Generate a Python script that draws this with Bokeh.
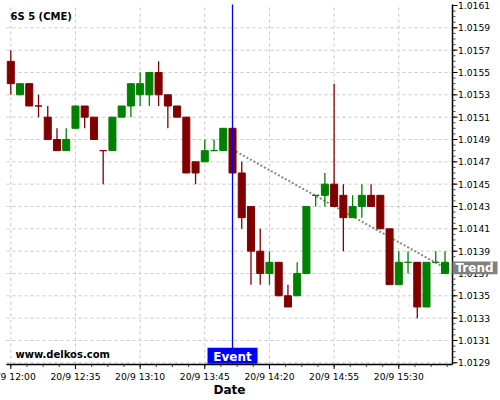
import numpy as np
from bokeh.plotting import figure
from bokeh.models import Range1d, ColumnDataSource
from bokeh.core.properties import value
from bokeh.embed import file_html
from bokeh.resources import INLINE

# ---------------- data ----------------
title_text = "6S 5 (CME)"
watermark_text = "www.delkos.com"
x_axis_title = "Date"
opens = [1.0156, 1.0153, 1.0154, 1.0152, 1.0151, 1.0149, 1.0148, 1.0150, 1.0152, 1.0151,
         1.0148, 1.0148, 1.0151, 1.0152, 1.0153, 1.0153, 1.0155, 1.0153, 1.0152, 1.0151,
         1.0147, 1.0147, 1.0148, 1.0148, 1.0150, 1.0146, 1.0143, 1.0139, 1.0137, 1.0138,
         1.0135, 1.0135, 1.0137, 1.0144, 1.0144, 1.0145, 1.0144, 1.0142, 1.0143, 1.0144,
         1.0144, 1.0141, 1.0136, 1.0138, 1.0138, 1.0134, 1.0138, 1.0137]
highs = [1.0157, 1.0154, 1.0154, 1.0153, 1.0152, 1.0150, 1.0150, 1.0152, 1.0152, 1.0151,
         1.0148, 1.0151, 1.0152, 1.0154, 1.0155, 1.0155, 1.0156, 1.0153, 1.0152, 1.0151,
         1.0147, 1.0149, 1.0149, 1.0150, 1.0150, 1.0147, 1.0143, 1.0141, 1.0139, 1.0138,
         1.0136, 1.0138, 1.0143, 1.0144, 1.0146, 1.0154, 1.0145, 1.0144, 1.0145, 1.0145,
         1.0144, 1.0141, 1.0139, 1.0139, 1.0138, 1.0138, 1.0139, 1.0139]
lows = [1.0153, 1.0153, 1.0152, 1.0151, 1.0149, 1.0148, 1.0148, 1.0150, 1.0150, 1.0149,
        1.0145, 1.0148, 1.0151, 1.0151, 1.0152, 1.0152, 1.0152, 1.0150, 1.0151, 1.0146,
        1.0145, 1.0147, 1.0148, 1.0148, 1.0146, 1.0141, 1.0136, 1.0136, 1.0136, 1.0135,
        1.0134, 1.0135, 1.0137, 1.0143, 1.0143, 1.0143, 1.0139, 1.0142, 1.0142, 1.0143,
        1.0141, 1.0136, 1.0136, 1.0137, 1.0133, 1.0134, 1.0138, 1.0137]
closes = [1.0154, 1.0154, 1.0152, 1.0152, 1.0149, 1.0148, 1.0149, 1.0152, 1.0151, 1.0149,
          1.0148, 1.0151, 1.0152, 1.0154, 1.0154, 1.0155, 1.0153, 1.0152, 1.0151, 1.0146,
          1.0146, 1.0148, 1.0148, 1.0150, 1.0146, 1.0142, 1.0139, 1.0137, 1.0138, 1.0135,
          1.0134, 1.0137, 1.0143, 1.0144, 1.0145, 1.0143, 1.0142, 1.0143, 1.0144, 1.0143,
          1.0141, 1.0136, 1.0138, 1.0138, 1.0134, 1.0138, 1.0138, 1.0138]
tick_positions = [0, 7, 14, 21, 28, 35, 42]          # candle index (5-minute bars from 12:00)
tick_labels = ["20/9 12:00", "20/9 12:35", "20/9 13:10", "20/9 13:45",
               "20/9 14:20", "20/9 14:55", "20/9 15:30"]
y_ticks = [1.0129, 1.0131, 1.0133, 1.0135, 1.0137, 1.0139, 1.0141, 1.0143, 1.0145,
           1.0147, 1.0149, 1.0151, 1.0153, 1.0155, 1.0157, 1.0159, 1.0161]
y_tick_labels = ["%.4f" % t for t in y_ticks]
event_index = 24
event_text = "Event"
trend_x = [24, 47]
trend_y = [1.01481, 1.01375]
trend_text = "Trend"

# ---------------- layout helpers (pixel layout of the 500x400 canvas) ----------------
W, H = 500, 400
X_PX, X0_PX = 9.238, 10.3            # px per candle, px of candle 0
Y_PX, Y_P0, Y0_PX = 111656.0, 1.0161, 5.0


def rx(px):
    return (px - X0_PX) / X_PX


def ry(py):
    return Y_P0 - (py - Y0_PX) / Y_PX


def dx(px):
    return px / X_PX


def dy(px):
    return px / Y_PX


FONT = value("DejaVu Sans")
UP, DOWN = "#008000", "#800000"
GRID = "#c8c8c8"

colors = []
for o, c in zip(opens, closes):
    if c > o:
        colors.append(UP)
    elif c < o:
        colors.append(DOWN)
    else:
        colors.append(colors[-1] if colors else UP)
xs = list(range(len(opens)))
src = ColumnDataSource(dict(x=xs, high=highs, low=lows,
                            top=[max(o, c) for o, c in zip(opens, closes)],
                            bottom=[min(o, c) for o, c in zip(opens, closes)],
                            color=colors))

p = figure(width=W, height=H, output_backend="svg", toolbar_location=None,
           x_range=Range1d(rx(0), rx(W)), y_range=Range1d(ry(H), ry(0)),
           x_axis_location=None, y_axis_location=None,
           min_border_left=0, min_border_top=0, min_border_right=0, min_border_bottom=0)
p.outline_line_color = None
p.background_fill_color = "white"
p.border_fill_color = "white"
p.grid.visible = False

D_LEFT, D_AXIS = rx(6), rx(452)
P_AXIS, P_TOP = ry(364), ry(4)

# grid
p.segment(x0=tick_positions, y0=P_AXIS, x1=tick_positions, y1=P_TOP,
          line_color=GRID, line_dash="3 3", line_width=1)
gy = y_ticks[:-1]
p.segment(x0=D_LEFT, y0=gy, x1=D_AXIS, y1=gy, line_color=GRID, line_dash="3 3", line_width=1)

# trend line (under candles)
p.line(trend_x, trend_y, line_color="#888888", line_width=2, line_dash="2 2")

# candles
p.segment(x0="x", y0="high", x1="x", y1="low", line_color="color", line_width=1.3, source=src)
p.vbar(x="x", width=0.76, top="top", bottom="bottom", fill_color="color",
       line_color="color", line_width=1, source=src)

# event line
p.segment(x0=event_index, y0=P_AXIS, x1=event_index, y1=P_TOP, line_color="#0000ff", line_width=1.3)

# axes lines
p.segment(x0=D_LEFT, y0=P_AXIS, x1=D_AXIS, y1=P_AXIS, line_color="black", line_width=1.5)
p.segment(x0=D_AXIS, y0=P_AXIS, x1=D_AXIS, y1=P_TOP, line_color="black", line_width=1.5)

# y ticks
y_minor = np.arange(y_ticks[0], y_ticks[-1] + 1e-7, 0.00005)
p.segment(x0=D_AXIS, y0=y_minor, x1=D_AXIS + dx(3), y1=y_minor, line_color="#444444", line_width=1)
p.segment(x0=D_AXIS, y0=y_ticks, x1=D_AXIS + dx(5), y1=y_ticks, line_color="black", line_width=1)
p.text(x=D_AXIS + dx(5.5), y=y_ticks, text=y_tick_labels, text_font=FONT,
       text_font_size=value("9.2px"), text_color="black", text_align="left", text_baseline="middle")

# x ticks
x_minor = np.arange(0, D_AXIS, 1.75)
p.segment(x0=x_minor, y0=P_AXIS, x1=x_minor, y1=P_AXIS - dy(2.5), line_color="#444444", line_width=1)
p.segment(x0=tick_positions, y0=P_AXIS, x1=tick_positions, y1=P_AXIS - dy(4.5),
          line_color="black", line_width=1)
p.text(x=tick_positions, y=ry(376.2), text=tick_labels, text_font=FONT,
       text_font_size=value("9.2px"), text_color="black", text_align="center",
       text_baseline="middle")
p.text(x=[(D_LEFT + D_AXIS) / 2], y=[ry(389.3)], text=[x_axis_title], text_font=FONT,
       text_font_size=value("12px"), text_font_style="bold", text_color="black",
       text_align="center", text_baseline="middle")

# title and watermark
p.text(x=[rx(10)], y=[ry(15.5)], text=[title_text], text_font=FONT, text_font_size=value("10px"),
       text_font_style="bold", text_color="black", text_align="left", text_baseline="middle")
p.text(x=[rx(15)], y=[ry(353.7)], text=[watermark_text], text_font=FONT,
       text_font_size=value("10px"), text_font_style="bold", text_color="black",
       text_align="left", text_baseline="middle")

# event box
p.quad(left=event_index - dx(25), right=event_index + dx(25), top=ry(347.3), bottom=ry(363.3),
       fill_color="#0000ff", line_color=None)
p.text(x=[event_index], y=[ry(356.3)], text=[event_text], text_font=FONT,
       text_font_size=value("12px"), text_font_style="bold", text_color="white",
       text_align="center", text_baseline="middle")

# trend box
p.quad(left=D_AXIS, right=D_AXIS + dx(45), top=trend_y[-1] + dy(6.3),
       bottom=trend_y[-1] - dy(6.3), fill_color="#808080", line_color=None)
p.text(x=[D_AXIS + dx(3)], y=[trend_y[-1]], text=[trend_text], text_font=FONT,
       text_font_size=value("12px"), text_font_style="bold", text_color="white",
       text_align="left", text_baseline="middle")

open("out.html", "w").write(file_html(p, INLINE))
